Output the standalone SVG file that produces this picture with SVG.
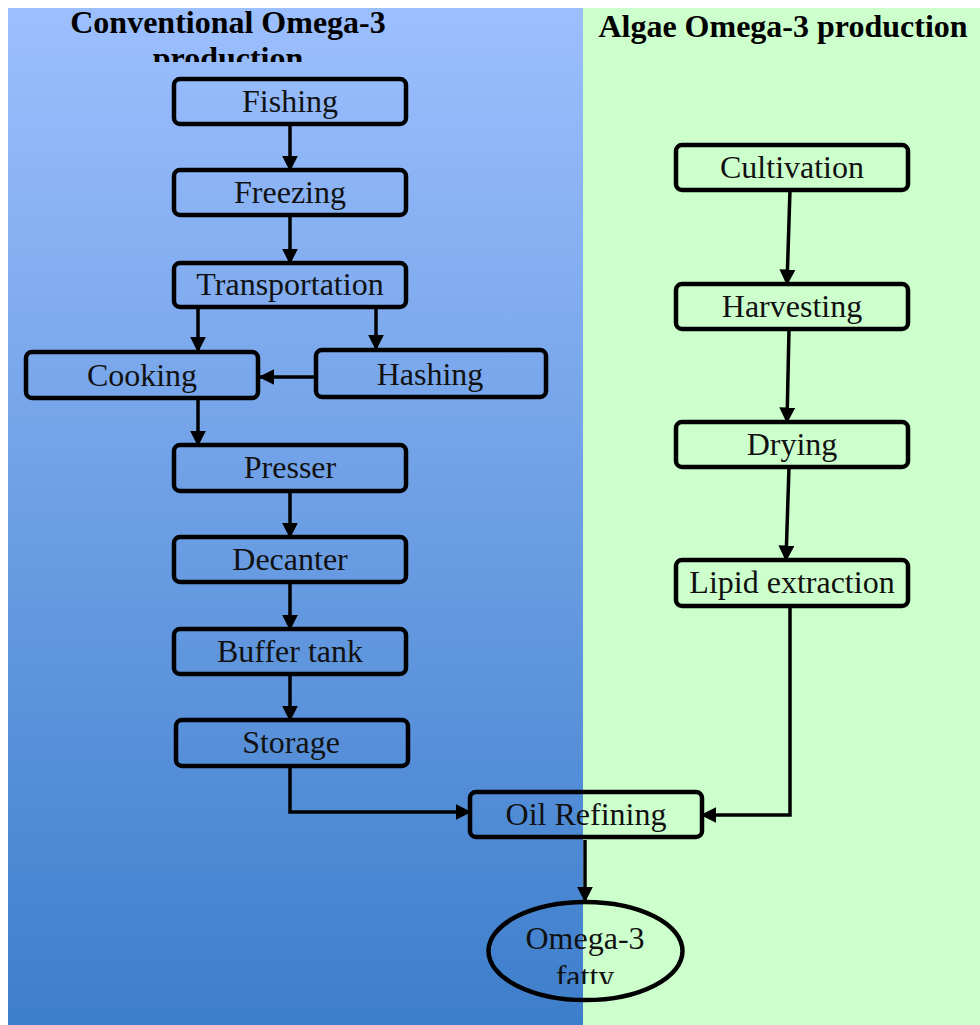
<svg xmlns="http://www.w3.org/2000/svg" width="980" height="1025" viewBox="0 0 980 1025">
  <defs>
    <linearGradient id="blueBg" x1="0" y1="0" x2="0" y2="1">
      <stop offset="0" stop-color="#9cbffe"/>
      <stop offset="1" stop-color="#3d7ecb"/>
    </linearGradient>
    <marker id="arrow" viewBox="0 0 10 10" refX="9" refY="5" markerWidth="4.6" markerHeight="4.6" orient="auto" markerUnits="strokeWidth">
      <path d="M0,0 L10,5 L0,10 z" fill="#000"/>
    </marker>
    <clipPath id="titleClip"><rect x="0" y="0" width="583" height="62"/></clipPath>
    <clipPath id="ovalClip"><rect x="480" y="900" width="220" height="84"/></clipPath>
  </defs>
  <style>
    .box { fill: none; stroke: #000; stroke-width: 4.5; }
    .lbl { font-family: "Liberation Serif", "Times New Roman", serif; font-size: 32px; fill: #111; text-anchor: middle; }
    .title { font-family: "Liberation Serif", "Times New Roman", serif; font-size: 32px; font-weight: bold; fill: #000; text-anchor: middle; }
    .conn { fill: none; stroke: #000; stroke-width: 3.5; marker-end: url(#arrow); }
  </style>

  <!-- background panels -->
  <rect x="0" y="0" width="980" height="1025" fill="#fff"/>
  <rect x="8" y="8" width="575" height="1017" fill="url(#blueBg)"/>
  <rect x="583" y="8" width="397" height="1017" fill="#ccffcc"/>

  <!-- column titles -->
  <g id="title-conventional" clip-path="url(#titleClip)">
    <text class="title" x="228" y="33">Conventional Omega-3</text>
    <text class="title" x="228" y="69">production</text>
  </g>
  <g id="title-algae">
    <text class="title" x="783" y="37">Algae Omega-3 production</text>
  </g>

  <!-- connectors -->
  <g id="connectors">
    <path class="conn" d="M290,124 V170"/>
    <path class="conn" d="M290,215 V263"/>
    <path class="conn" d="M198,307 V351"/>
    <path class="conn" d="M376,307 V349"/>
    <path class="conn" d="M316,377 H260"/>
    <path class="conn" d="M198,398 V445"/>
    <path class="conn" d="M290,491 V537"/>
    <path class="conn" d="M290,582 V629"/>
    <path class="conn" d="M290,674 V720"/>
    <path class="conn" d="M290,766 V812 H470"/>
    <path class="conn" d="M790,190 L787,284"/>
    <path class="conn" d="M789,329 L787,422"/>
    <path class="conn" d="M789,467 L786,560"/>
    <path class="conn" d="M790,606 V815 H702"/>
    <path class="conn" d="M585,840 V901"/>
  </g>

  <!-- conventional process -->
  <g id="fishing"><rect class="box" x="174" y="79" width="232" height="45" rx="6"/><text class="lbl" x="290" y="112">Fishing</text></g>
  <g id="freezing"><rect class="box" x="174" y="170" width="232" height="45" rx="6"/><text class="lbl" x="290" y="203">Freezing</text></g>
  <g id="transportation"><rect class="box" x="174" y="263" width="232" height="44" rx="6"/><text class="lbl" x="290" y="295">Transportation</text></g>
  <g id="cooking"><rect class="box" x="26" y="352" width="232" height="46" rx="6"/><text class="lbl" x="142" y="386">Cooking</text></g>
  <g id="hashing"><rect class="box" x="316" y="350" width="230" height="47" rx="6"/><text class="lbl" x="430" y="385">Hashing</text></g>
  <g id="presser"><rect class="box" x="174" y="445" width="232" height="46" rx="6"/><text class="lbl" x="290" y="478">Presser</text></g>
  <g id="decanter"><rect class="box" x="174" y="537" width="232" height="45" rx="6"/><text class="lbl" x="290" y="570">Decanter</text></g>
  <g id="buffer-tank"><rect class="box" x="174" y="629" width="232" height="45" rx="6"/><text class="lbl" x="290" y="662">Buffer tank</text></g>
  <g id="storage"><rect class="box" x="176" y="720" width="232" height="46" rx="6"/><text class="lbl" x="291" y="753">Storage</text></g>

  <!-- algae process -->
  <g id="cultivation"><rect class="box" x="676" y="145" width="232" height="45" rx="6"/><text class="lbl" x="792" y="178">Cultivation</text></g>
  <g id="harvesting"><rect class="box" x="676" y="284" width="232" height="45" rx="6"/><text class="lbl" x="792" y="317">Harvesting</text></g>
  <g id="drying"><rect class="box" x="676" y="422" width="232" height="45" rx="6"/><text class="lbl" x="792" y="455">Drying</text></g>
  <g id="lipid-extraction"><rect class="box" x="676" y="560" width="232" height="46" rx="6"/><text class="lbl" x="792" y="593">Lipid extraction</text></g>

  <!-- shared steps -->
  <g id="oil-refining"><rect class="box" x="470" y="792" width="232" height="45" rx="6"/><text class="lbl" x="586" y="825">Oil Refining</text></g>
  <g id="omega3-fatty">
    <ellipse class="box" cx="585.5" cy="951" rx="97" ry="49"/>
    <g clip-path="url(#ovalClip)">
      <text class="lbl" x="585" y="949">Omega-3</text>
      <text class="lbl" x="585" y="987">fatty</text>
    </g>
  </g>
</svg>
